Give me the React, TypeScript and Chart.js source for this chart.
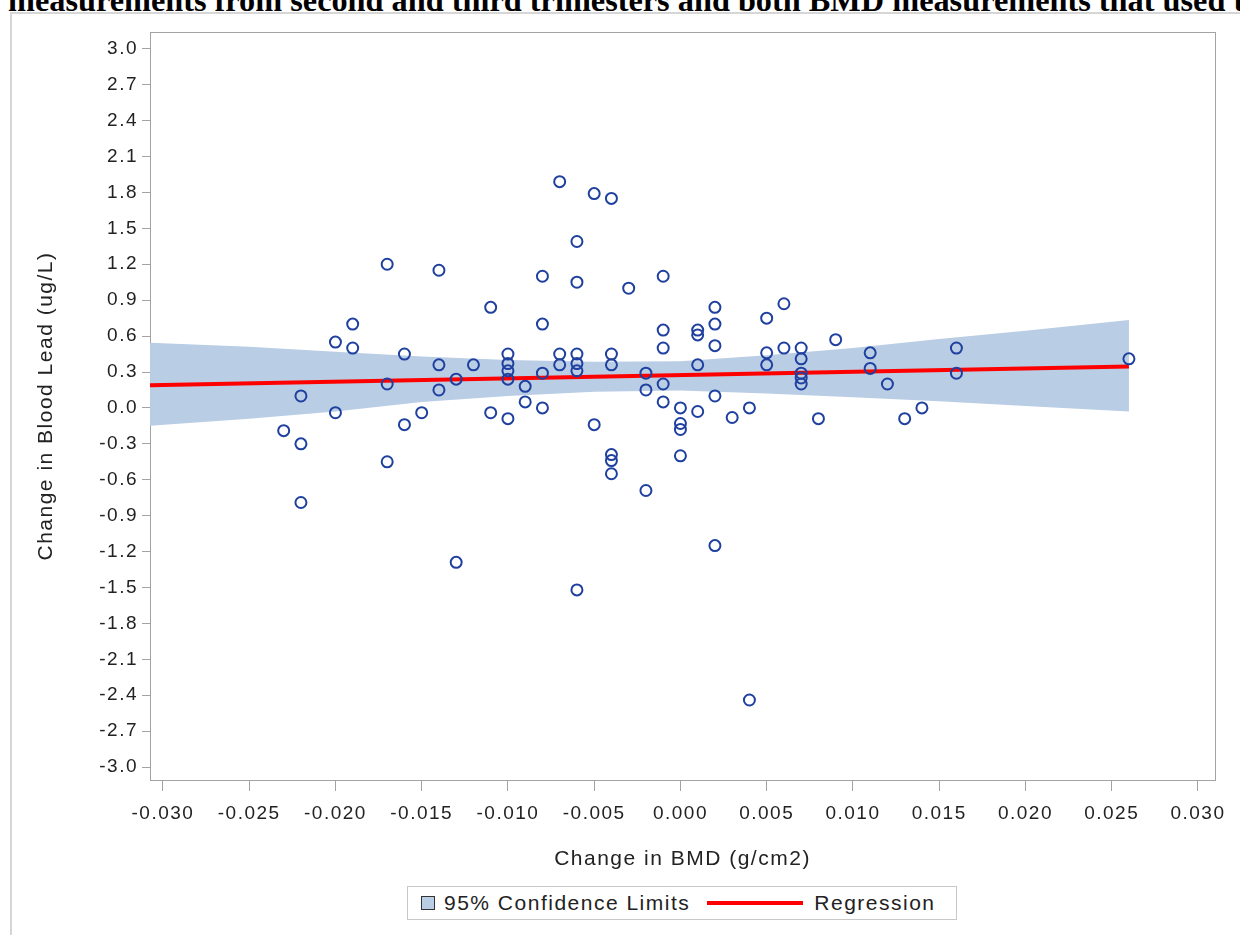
import React, { useEffect, useRef } from "react";
import { Chart, registerables } from "chart.js";

Chart.register(...registerables);

// ---- data ----
const bmdChange = [
  -0.023, -0.022, -0.022, -0.022, -0.020, -0.020, -0.019, -0.019, -0.017, -0.017,
  -0.017, -0.016, -0.016, -0.015, -0.014, -0.014, -0.014, -0.013, -0.013, -0.012,
  -0.011, -0.011, -0.010, -0.010, -0.010, -0.010, -0.010, -0.009, -0.009, -0.008,
  -0.008, -0.008, -0.008, -0.007, -0.007, -0.007, -0.006, -0.006, -0.006, -0.006,
  -0.006, -0.006, -0.005, -0.005, -0.004, -0.004, -0.004, -0.004, -0.004, -0.004,
  -0.003, -0.002, -0.002, -0.002, -0.001, -0.001, -0.001, -0.001, -0.001, 0.000,
  0.000, 0.000, 0.000, 0.001, 0.001, 0.001, 0.001, 0.002, 0.002, 0.002,
  0.002, 0.002, 0.003, 0.004, 0.004, 0.005, 0.005, 0.005, 0.006, 0.006,
  0.007, 0.007, 0.007, 0.007, 0.007, 0.008, 0.009, 0.011, 0.011, 0.012,
  0.013, 0.014, 0.016, 0.016, 0.026,
];
const leadChange = [
  -0.19, 0.10, -0.30, -0.79, 0.55, -0.04, 0.70, 0.50, 1.20, 0.20,
  -0.45, 0.45, -0.14, -0.04, 1.15, 0.36, 0.15, 0.24, -1.29, 0.36,
  0.84, -0.04, 0.45, 0.37, 0.31, 0.24, -0.09, 0.18, 0.05, 1.10,
  0.70, 0.29, 0.00, 1.89, 0.45, 0.36, 1.39, 1.05, 0.45, 0.37,
  0.31, -1.52, 1.79, -0.14, 1.75, 0.45, 0.36, -0.39, -0.44, -0.55,
  1.00, 0.29, 0.15, -0.69, 1.10, 0.65, 0.50, 0.20, 0.05, 0.00,
  -0.13, -0.18, -0.40, 0.65, 0.61, 0.36, -0.03, 0.84, 0.70, 0.52,
  0.10, -1.15, -0.08, 0.00, -2.44, 0.75, 0.46, 0.36, 0.87, 0.50,
  0.50, 0.41, 0.29, 0.25, 0.20, -0.09, 0.57, 0.46, 0.33, 0.20,
  -0.09, 0.00, 0.50, 0.29, 0.41,
];

const bandX = [-0.03075, -0.025, -0.020, -0.015, -0.010, -0.005, 0.000, 0.005, 0.010, 0.015, 0.020, 0.026];
const bandUpper = [0.544, 0.51, 0.47, 0.43, 0.40, 0.385, 0.39, 0.44, 0.50, 0.575, 0.645, 0.735];
const bandLower = [-0.150, -0.09, -0.03, 0.05, 0.10, 0.135, 0.145, 0.12, 0.09, 0.055, 0.015, -0.030];

const regX = [-0.03075, 0.026];
const regY = [0.19, 0.345];

const xTicks = [-0.030, -0.025, -0.020, -0.015, -0.010, -0.005, 0.000, 0.005, 0.010, 0.015, 0.020, 0.025, 0.030];
const yTicks = [-3.0, -2.7, -2.4, -2.1, -1.8, -1.5, -1.2, -0.9, -0.6, -0.3, 0.0, 0.3, 0.6, 0.9, 1.2, 1.5, 1.8, 2.1, 2.4, 2.7, 3.0];

const xMin = -0.03075;
const xMax = 0.03099;
const yMin = -3.108;
const yMax = 3.14;

const FONT = '"Liberation Sans", Arial, Helvetica, sans-serif';
const TEXT = "#222222";
const BAND = "#b9cde5";
const POINT = "#1f409f";

const spacingPlugin = {
  id: "spacing",
  beforeDraw(chart: any) {
    chart.ctx.letterSpacing = "1.5px";
  },
};

const framePlugin = {
  id: "frame",
  beforeDatasetsDraw(chart: any) {
    const { ctx, chartArea } = chart;
    ctx.save();
    ctx.strokeStyle = "#a3a3a3";
    ctx.lineWidth = 1;
    ctx.strokeRect(
      Math.round(chartArea.left) + 0.5,
      Math.round(chartArea.top) + 0.5,
      Math.round(chartArea.right - chartArea.left),
      Math.round(chartArea.bottom - chartArea.top)
    );
    ctx.restore();
  },
};

export default function App() {
  const ref = useRef<HTMLCanvasElement | null>(null);

  useEffect(() => {
    if (!ref.current) return;
    const points = bmdChange.map((x, i) => ({ x, y: leadChange[i] }));
    const upper = bandX.map((x, i) => ({ x, y: bandUpper[i] }));
    const lower = bandX.map((x, i) => ({ x, y: bandLower[i] }));
    const reg = regX.map((x, i) => ({ x, y: regY[i] }));

    const chart = new Chart(ref.current, {
      type: "scatter",
      data: {
        datasets: [
          {
            label: "95% Confidence Limits",
            data: upper,
            showLine: true,
            borderWidth: 0,
            borderColor: BAND,
            backgroundColor: BAND,
            pointRadius: 0,
            fill: "+1",
            order: 3,
          } as any,
          {
            label: "lower",
            data: lower,
            showLine: true,
            borderWidth: 0,
            borderColor: BAND,
            backgroundColor: BAND,
            pointRadius: 0,
            fill: false,
            order: 4,
          } as any,
          {
            label: "Regression",
            data: reg,
            showLine: true,
            borderColor: "#ff0000",
            borderWidth: 4,
            pointRadius: 0,
            fill: false,
            order: 2,
          } as any,
          {
            label: "Observed",
            data: points,
            pointStyle: "circle",
            pointRadius: 5.5,
            pointBorderWidth: 2,
            pointBorderColor: POINT,
            pointBackgroundColor: "rgba(0,0,0,0)",
            borderColor: POINT,
            backgroundColor: "rgba(0,0,0,0)",
            order: 1,
          } as any,
        ],
      },
      options: {
        animation: false,
        responsive: false,
        devicePixelRatio: 1,
        layout: { padding: { top: 32, right: 25, left: 34, bottom: 63 } },
        plugins: {
          legend: { display: false },
          tooltip: { enabled: false },
          title: { display: false },
        },
        scales: {
          x: {
            type: "linear",
            min: xMin,
            max: xMax,
            afterBuildTicks: (s: any) => {
              s.ticks = xTicks.map((v) => ({ value: v }));
            },
            afterFit: (s: any) => {
              s.height = 92;
            },
            border: { display: false },
            grid: {
              drawOnChartArea: false,
              drawTicks: true,
              tickLength: 11,
              tickColor: "#a3a3a3",
              color: "#a3a3a3",
            },
            ticks: {
              autoSkip: false,
              maxRotation: 0,
              minRotation: 0,
              padding: 11,
              color: TEXT,
              font: { family: FONT, size: 19 },
              callback: (v: any) => Number(v).toFixed(3),
            },
            title: {
              display: true,
              text: "Change in BMD (g/cm2)",
              color: TEXT,
              font: { family: FONT, size: 21 },
              padding: 0,
            },
          },
          y: {
            type: "linear",
            min: yMin,
            max: yMax,
            afterBuildTicks: (s: any) => {
              s.ticks = yTicks.map((v) => ({ value: v }));
            },
            afterFit: (s: any) => {
              s.width = 116;
            },
            border: { display: false },
            grid: {
              drawOnChartArea: false,
              drawTicks: true,
              tickLength: 8,
              tickColor: "#a3a3a3",
              color: "#a3a3a3",
            },
            ticks: {
              autoSkip: false,
              padding: 4,
              color: TEXT,
              font: { family: FONT, size: 19 },
              callback: (v: any) => Number(v).toFixed(1),
            },
            title: {
              display: true,
              text: "Change in Blood Lead (ug/L)",
              color: TEXT,
              font: { family: FONT, size: 21 },
              padding: 0,
            },
          },
        },
      },
      plugins: [spacingPlugin, framePlugin],
    });
    return () => chart.destroy();
  }, []);

  return (
    <div
      style={{
        position: "absolute",
        left: 0,
        top: 0,
        width: 1240,
        height: 935,
        overflow: "hidden",
        background: "#ffffff",
      }}
    >
      <div
        style={{
          position: "absolute",
          left: 10,
          top: 12,
          width: 1300,
          height: 1000,
          border: "2px solid #d6d6d6",
          boxSizing: "border-box",
        }}
      />
      <div
        style={{
          position: "absolute",
          left: 8,
          top: -16,
          whiteSpace: "nowrap",
          fontFamily: '"Liberation Serif", "Times New Roman", serif',
          fontWeight: "bold",
          fontSize: 32.3,
          lineHeight: "32px",
          color: "#000",
        }}
      >
        measurements from second and third trimesters and both BMD measurements that used the same method
      </div>
      <canvas
        ref={ref}
        width={1240}
        height={935}
        style={{ position: "absolute", left: 0, top: 0, width: 1240, height: 935 }}
      />
      <div
        style={{
          position: "absolute",
          left: 407,
          top: 886,
          width: 550,
          height: 34,
          border: "1px solid #c8c8c8",
          boxSizing: "border-box",
          display: "flex",
          alignItems: "center",
          fontFamily: FONT,
          fontSize: 21,
          letterSpacing: "1.5px",
          color: TEXT,
          background: "#fff",
        }}
      >
        <span
          style={{
            display: "inline-block",
            width: 12,
            height: 12,
            marginLeft: 13,
            border: "1px solid #333",
            background: BAND,
          }}
        />
        <span style={{ marginLeft: 9 }}>95% Confidence Limits</span>
        <span
          style={{
            display: "inline-block",
            width: 96,
            height: 4,
            marginLeft: 17,
            background: "#ff0000",
          }}
        />
        <span style={{ marginLeft: 11 }}>Regression</span>
      </div>
    </div>
  );
}
